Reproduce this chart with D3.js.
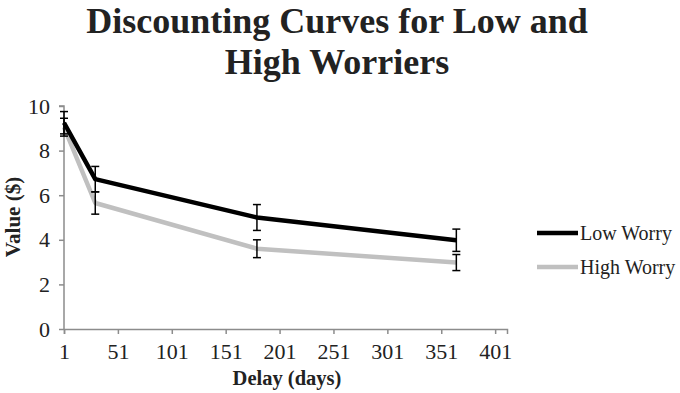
<!DOCTYPE html>
<html><head><meta charset="utf-8">
<script src="https://cdn.jsdelivr.net/npm/d3@7"></script>
<style>body{margin:0;background:#fff}svg{display:block}text{font-family:"Liberation Serif","Times New Roman",serif;fill:#222}</style>
</head><body><svg id="c" width="680" height="393"></svg>
<script>
const delays = [1, 30, 180, 365];
const lowWorry = [9.25, 6.72, 5.0, 3.98];
const lowErr = [0.5, 0.57, 0.58, 0.5];
const highWorry = [9.05, 5.65, 3.6, 2.98];
const highErr = [0.4, 0.5, 0.4, 0.36];
const xTicks = [1, 51, 101, 151, 201, 251, 301, 351, 401];
const yTicks = [0, 2, 4, 6, 8, 10];
const seriesNames = ["Low Worry", "High Worry"];
const seriesColors = ["#000000", "#c0c0c0"];

const svg = d3.select("#c");
const x = d3.scaleLinear().domain([1, 412]).range([64, 507]);
const y = d3.scaleLinear().domain([0, 10]).range([329, 106]);

// title
const title = svg.append("text").attr("text-anchor", "middle").attr("font-size", 36).attr("font-weight", "bold");
title.append("tspan").attr("x", 337).attr("y", 33).text("Discounting Curves for Low and");
title.append("tspan").attr("x", 337).attr("y", 74).text("High Worriers");

// axes
const axisColor = "#8c8c8c";
const gx = svg.append("g").attr("transform", `translate(0,${y(0)})`)
  .call(d3.axisBottom(x).tickValues(xTicks).tickSize(5).tickPadding(9).tickFormat(d3.format("d")));
const gy = svg.append("g").attr("transform", `translate(${x(1)},0)`)
  .call(d3.axisLeft(y).tickValues(yTicks).tickSize(5).tickPadding(9).tickFormat(d3.format("d")));
[gx, gy].forEach(g => {
  g.select(".domain").attr("stroke", axisColor).attr("stroke-width", 1.5);
  g.selectAll(".tick line").attr("stroke", axisColor).attr("stroke-width", 1.5);
  g.selectAll(".tick text").attr("font-size", 22).attr("fill", "#222")
    .attr("font-family", '"Liberation Serif","Times New Roman",serif');
});
gy.select(".domain").attr("d", `M-5,${y(10)}H0V${y(0)}`);

// axis titles
svg.append("text").attr("x", 287).attr("y", 385).attr("text-anchor", "middle")
  .attr("font-size", 20.5).attr("font-weight", "bold").text("Delay (days)");
svg.append("text").attr("transform", "translate(20,217) rotate(-90)").attr("text-anchor", "middle")
  .attr("font-size", 21).attr("font-weight", "bold").text("Value ($)");

const line = d3.line().x(d => x(d[0])).y(d => y(d[1]));
const series = [
  {vals: highWorry, err: highErr, color: seriesColors[1]},
  {vals: lowWorry, err: lowErr, color: seriesColors[0]}
];
series.forEach(s => {
  svg.append("path").datum(delays.map((d, i) => [d, s.vals[i]]))
    .attr("d", line).attr("fill", "none").attr("stroke", s.color)
    .attr("stroke-width", 4.5).attr("stroke-linejoin", "round");
});
// error bars
series.forEach(s => {
  delays.forEach((d, i) => {
    const cx = x(d), y1 = y(s.vals[i] + s.err[i]), y2 = y(s.vals[i] - s.err[i]);
    const g = svg.append("g").attr("stroke", "#000").attr("stroke-width", 1.5);
    g.append("line").attr("x1", cx).attr("x2", cx).attr("y1", y1).attr("y2", y2);
    g.append("line").attr("x1", cx - 4).attr("x2", cx + 4).attr("y1", y1).attr("y2", y1);
    g.append("line").attr("x1", cx - 4).attr("x2", cx + 4).attr("y1", y2).attr("y2", y2);
  });
});

// legend
seriesNames.forEach((n, i) => {
  const ly = 233 + i * 34;
  svg.append("line").attr("x1", 537).attr("x2", 578).attr("y1", ly).attr("y2", ly)
    .attr("stroke", seriesColors[i]).attr("stroke-width", 4.5);
  svg.append("text").attr("x", 580).attr("y", ly + 7).attr("font-size", 20).text(n);
});
</script></body></html>
